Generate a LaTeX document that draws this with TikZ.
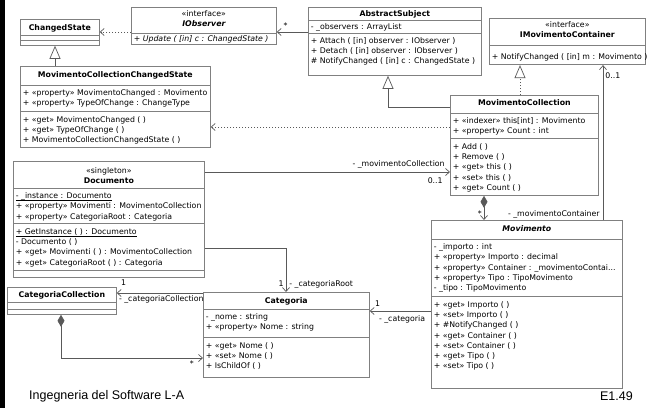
\documentclass[tikz,border=0pt]{standalone}
\usepackage{xcolor}
\usepackage{fontspec}
\setmainfont{DejaVu Sans}
\newfontfamily\footfont{Liberation Sans}
\usepackage{tikz}
\usetikzlibrary{shapes.multipart, arrows.meta, positioning}

\definecolor{boxline}{gray}{0.5}
\definecolor{wire}{gray}{0.35}

\newcommand{\umlsize}{\fontsize{7.8pt}{10.2pt}\selectfont}
% compartment: [top kern]{width}{height}{rows}
\newcommand{\cpt}[4][3]{\hbox to #2pt{\vbox to #3pt{\umlsize\hsize=#2pt\lineskiplimit=-5pt\kern#1pt #4\vss}\hss}}
\newcommand{\lrow}[1]{\hbox{\vrule height7.3pt depth2.9pt width0pt\hspace{2.5pt}#1}}
\newcommand{\crow}[1]{\hbox to \hsize{\vrule height7.3pt depth2.9pt width0pt\hss#1\hss}}
% static members: thin rule just under the baseline
\newcommand{\stat}[1]{\setbox0\hbox{#1}\rlap{\vrule width\wd0 height-1.1pt depth1.6pt}\box0}

\begin{document}
\begin{tikzpicture}[
        x=1pt, y=-1pt,
        umlclass/.style={rectangle split, rectangle split parts=#1, draw=boxline, line width=0.7pt, fill=white, inner sep=0pt, anchor=north west},
        lbl/.style={inner sep=1pt, font=\umlsize},
        assoc/.style={draw=wire, line width=0.7pt, -{Straight Barb[length=4pt, width=7pt]}},
        dep/.style={assoc, dash pattern=on 1.5pt off 1.5pt},
        gen/.style={draw=wire, line width=0.7pt, -{Triangle[open, length=13pt, width=11pt, fill=white]}},
        real/.style={gen, dash pattern=on 1.5pt off 1.5pt},
        comp/.style={draw=wire, line width=0.7pt, {Diamond[length=12pt, width=7pt]}-{Straight Barb[length=4pt, width=7pt]}},
        footer/.style={font=\footfont\fontsize{12.5pt}{15pt}\selectfont, inner sep=0pt}
        ]
        \useasboundingbox (0,0) rectangle (647,408);
        \fill[black] (0,0) rectangle (4.5,408);

        % Nodes
        \node[umlclass=3] (chst) at (20,19) {\cpt{79}{15}{\crow{\bfseries ChangedState}}
            \nodepart{two}\cpt{79}{5}{}
            \nodepart{three}\cpt{79}{4}{}};
        \node[umlclass=2] (iobs) at (131,7) {\cpt[1.5]{145}{25}{\crow{«interface»}\crow{\bfseries\itshape IObserver}}
            \nodepart{two}\cpt[0.5]{145}{11}{\lrow{\itshape + Update ( [in] c : ChangedState )}}};
        \node[umlclass=3] (absj) at (308,7) {\cpt[1.5]{173}{12}{\crow{\bfseries AbstractSubject}}
            \nodepart{two}\cpt[2]{173}{13}{\lrow{- \_observers : ArrayList}}
            \nodepart{three}\cpt[2]{173}{41}{\lrow{+ Attach ( [in] observer : IObserver )}\lrow{+ Detach ( [in] observer : IObserver )}\lrow{\# NotifyChanged ( [in] c : ChangedState )}}};
        \node[umlclass=2] (imc) at (489,18) {\cpt[1.5]{156}{26}{\crow{«interface»}\crow{\bfseries IMovimentoContainer}}
            \nodepart{two}\cpt[6.5]{156}{19}{\lrow{+ NotifyChanged ( [in] m : Movimento )}}};
        \node[umlclass=3] (mccs) at (20,66) {\cpt[3.5]{190}{18}{\crow{\bfseries MovimentoCollectionChangedState}}
            \nodepart{two}\cpt{190}{26}{\lrow{+ «property» MovimentoChanged : Movimento}\lrow{+ «property» TypeOfChange : ChangeType}}
            \nodepart{three}\cpt{190}{35}{\lrow{+ «get» MovimentoChanged ( )}\lrow{+ «get» TypeOfChange ( )}\lrow{+ MovimentoCollectionChangedState ( )}}};
        \node[umlclass=3] (mcol) at (450,95) {\cpt[2.5]{148}{17}{\crow{\bfseries MovimentoCollection}}
            \nodepart{two}\cpt{148}{25}{\lrow{+ «indexer» this[int] : Movimento}\lrow{+ «property» Count : int}}
            \nodepart{three}\cpt{148}{56}{\lrow{+ Add ( )}\lrow{+ Remove ( )}\lrow{+ «get» this ( )}\lrow{+ «set» this ( )}\lrow{+ «get» Count ( )}}};
        \node[umlclass=4] (doc) at (13,161) {\cpt[4]{191}{26}{\crow{«singleton»}\crow{\bfseries Documento}}
            \nodepart{two}\cpt{191}{35}{\lrow{\stat{- \_instance : Documento}}\lrow{+ «property» Movimenti : MovimentoCollection}\lrow{+ «property» CategoriaRoot : Categoria}}
            \nodepart{three}\cpt{191}{46}{\lrow{\stat{+ GetInstance ( ) : Documento}}\lrow{- Documento ( )}\lrow{+ «get» Movimenti ( ) : MovimentoCollection}\lrow{+ «get» CategoriaRoot ( ) : Categoria}}
            \nodepart{four}\cpt{191}{6}{}};
        \node[umlclass=3] (ccol) at (7,287) {\cpt[2.5]{109}{14}{\crow{\bfseries CategoriaCollection}}
            \nodepart{two}\cpt{109}{7}{}
            \nodepart{three}\cpt{109}{4}{}};
        \node[umlclass=3] (cat) at (203,292) {\cpt{166}{16}{\crow{\bfseries Categoria}}
            \nodepart{two}\cpt{166}{28}{\lrow{- \_nome : string}\lrow{+ «property» Nome : string}}
            \nodepart{three}\cpt{166}{39}{\lrow{+ «get» Nome ( )}\lrow{+ «set» Nome ( )}\lrow{+ IsChildOf ( )}}};
        \node[umlclass=3] (mov) at (431,220) {\cpt{191}{18}{\crow{\bfseries\itshape Movimento}}
            \nodepart{two}\cpt{191}{57}{\lrow{- \_importo : int}\lrow{+ «property» Importo : decimal}\lrow{+ «property» Container : \_movimentoContai...}\lrow{+ «property» Tipo : TipoMovimento}\lrow{- \_tipo : TipoMovimento}}
            \nodepart{three}\cpt{191}{91}{\lrow{+ «get» Importo ( )}\lrow{+ «set» Importo ( )}\lrow{+ \#NotifyChanged ( )}\lrow{+ «get» Container ( )}\lrow{+ «set» Container ( )}\lrow{+ «get» Tipo ( )}\lrow{+ «set» Tipo ( )}}};

        \node[footer, anchor=west] (course) at (29,396) {Ingegneria del Software L-A};
        \node[footer, anchor=east] (slide) at (633,396) {E1.49};

        % Edges
        \draw[dep] ([yshift=-25pt]iobs.north west) -- ([yshift=-13pt]chst.north east);
        \draw[assoc] ([yshift=-25pt]absj.north west) -- node[lbl, pos=0.72, above=2pt] (obsmult) {*} ([yshift=-25pt]iobs.north east);
        \draw[gen] ([xshift=35pt]mccs.north west) -- ([xshift=35pt]chst.south west);
        \draw[gen] ([yshift=-12pt]mcol.north west) -| ([xshift=80pt]absj.south west);
        \draw[real] ([xshift=70pt]mcol.north west) -- ([xshift=31pt]imc.south west);
        \draw[dep] ([yshift=-32pt]mcol.north west) -- ([yshift=-61pt]mccs.north east);
        \draw[assoc] ([xshift=172pt]mov.north west) -- node[lbl, pos=0.93, right=1pt] (contmult) {0..1}
            node[lbl, pos=0, anchor=south east, xshift=-2pt] (controle) {- \_movimentoContainer} ([xshift=114pt]imc.south west);
        \draw[assoc] ([yshift=-11pt]doc.north east) -- node[lbl, pos=1, anchor=south east, xshift=-4pt, yshift=2pt] (collrole) {- \_movimentoCollection}
            node[lbl, pos=1, anchor=north east, xshift=-6pt, yshift=-4pt] (collmult) {0..1} ([yshift=-77pt]mcol.north west);
        \draw[comp] ([xshift=34pt]mcol.south west) -- node[lbl, pos=0.75, left=1pt] (movmult) {*} ([xshift=53pt]mov.north west);
        \draw[assoc] ([yshift=-87pt]doc.north east) -| node[lbl, pos=1, anchor=east, xshift=-1pt, yshift=8pt] (rootmult) {1}
            node[lbl, pos=1, anchor=west, xshift=2pt, yshift=8pt] (rootrole) {- \_categoriaRoot} ([xshift=83pt]cat.north west);
        \draw[assoc] ([yshift=-1pt]cat.north west) -- node[lbl, pos=1, anchor=south west, xshift=3pt, yshift=6pt] (ccolmult) {1}
            node[lbl, pos=1, anchor=north west, xshift=1pt, yshift=-1pt] (ccolrole) {- \_categoriaCollection} ([yshift=-6pt]ccol.north east);
        \draw[comp] ([xshift=54pt]ccol.south west) |- node[lbl, pos=1, anchor=north east, xshift=-8pt, yshift=-1pt] (catmult) {*} ([yshift=-66pt]cat.north west);
        \draw[assoc] ([yshift=-91pt]mov.north west) -- node[lbl, pos=1, anchor=south west, xshift=4pt, yshift=3pt] (movcatmult) {1}
            node[lbl, pos=1, anchor=north west, xshift=8pt, yshift=-3pt] (movcatrole) {- \_categoria} ([yshift=-19pt]cat.north east);
    \end{tikzpicture}
\end{document}
